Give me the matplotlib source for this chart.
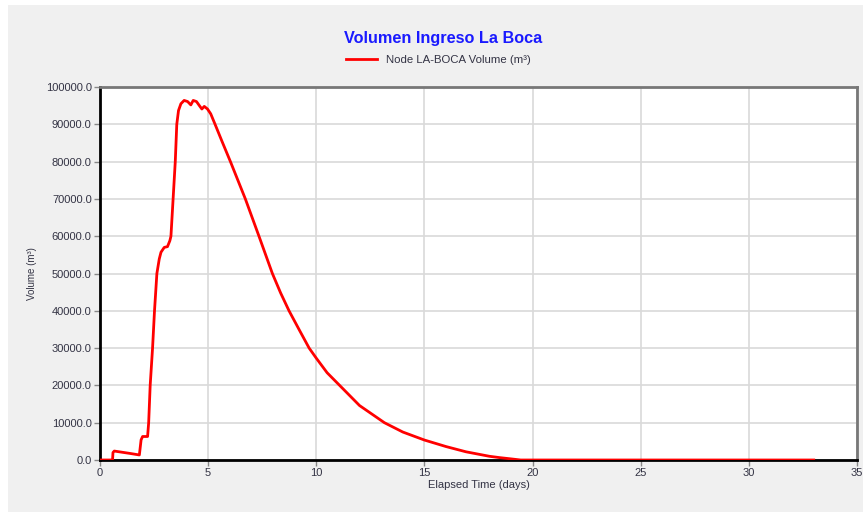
import matplotlib.pyplot as plt
from matplotlib.patches import Rectangle

# elapsed time (days) and volume (m3)
days = [0.0, 0.58, 0.6, 0.66, 1.0, 1.4, 1.82, 1.9, 1.97, 2.2, 2.25, 2.32, 2.43,
        2.52, 2.63, 2.74, 2.82, 2.97, 3.12, 3.23, 3.28, 3.38, 3.48, 3.55, 3.63,
        3.74, 3.89, 4.05, 4.2, 4.31, 4.46, 4.62, 4.71, 4.82, 4.97, 5.12, 5.32,
        5.65, 6.03, 6.72, 7.35, 7.97, 8.35, 8.74, 9.23, 9.67, 10.0, 10.5, 11.08,
        12.0, 13.15, 14.0, 15.0, 16.0, 16.92, 18.0, 18.46, 19.0, 19.45, 20.0,
        25.0, 33.0]
volume = [0, 0, 2000, 2400, 2100, 1750, 1350, 5400, 6300, 6300, 10000, 20000, 30000,
          40000, 50000, 53900, 55700, 57000, 57200, 58800, 60000, 70000, 80000, 90000,
          93700, 95500, 96400, 96100, 95200, 96400, 96100, 94800, 94100, 94800, 94100,
          92800, 90000, 85300, 80000, 70000, 60000, 50000, 44800, 40000, 34700, 30000,
          27300, 23400, 20000, 14600, 10000, 7500, 5350, 3600, 2200, 1000, 650, 300,
          0, 0, 0, 0]

xticks = [0, 5, 10, 15, 20, 25, 30, 35]
yticks = [0, 10000, 20000, 30000, 40000, 50000, 60000, 70000, 80000, 90000, 100000]

plt.rcParams['font.family'] = ['Liberation Sans', 'DejaVu Sans']
txt = '#333344'

fig = plt.figure(figsize=(8.63, 5.12), dpi=100)
fig.patch.set_facecolor('white')
fig.patches.append(Rectangle((8 / 863, 0), 1, 1 - 5 / 512, transform=fig.transFigure,
                             facecolor='#f0f0f0', edgecolor='none', zorder=-10))

ax = fig.add_axes([100 / 863, 52 / 512, 757 / 863, 373 / 512])
ax.set_facecolor('white')
ax.plot(days, volume, color='red', lw=2, label='Node LA-BOCA Volume (m³)', zorder=3)

ax.set_xlim(0, 35)
ax.set_ylim(0, 100000)
ax.set_xticks(xticks)
ax.set_yticks(yticks)
ax.set_yticklabels(['%.1f' % v for v in yticks])
ax.tick_params(labelsize=8, colors='#888888', labelcolor=txt, length=4, width=1, pad=2)
ax.grid(True, color='#d9d9d9', lw=1.2)
ax.set_axisbelow(True)

for s in ['left', 'bottom']:
    ax.spines[s].set_color('black')
    ax.spines[s].set_linewidth(2)
for s in ['top', 'right']:
    ax.spines[s].set_color('#777777')
    ax.spines[s].set_linewidth(2)

ax.set_xlabel('Elapsed Time (days)', fontsize=8, color=txt, labelpad=1)
ax.set_ylabel('Volume (m³)', fontsize=7, color=txt, labelpad=6)

fig.text(0.514, 0.924, 'Volumen Ingreso La Boca', ha='center', va='center',
         fontsize=11.7, fontweight='bold', color='#1a1aff')
fig.legend(loc='center', bbox_to_anchor=(0.508, 0.883), frameon=False, fontsize=8.2,
           labelcolor=txt, handlelength=2.7)

fig.savefig('out.png', dpi=100)
